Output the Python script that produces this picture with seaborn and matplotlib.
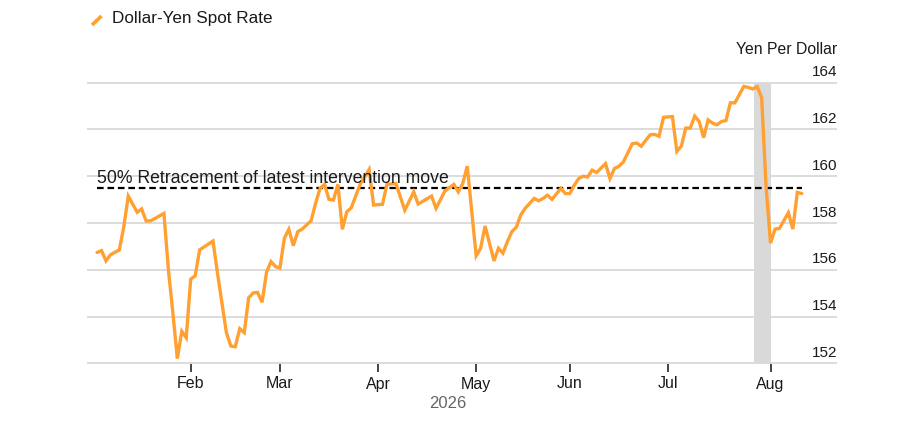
import numpy as np
import pandas as pd
import matplotlib
matplotlib.use("Agg")
import matplotlib.pyplot as plt
import seaborn as sns
from matplotlib.lines import Line2D

# ---------------- data ----------------
dates = [
    "2026-01-02", "2026-01-05", "2026-01-06", "2026-01-07", "2026-01-09", "2026-01-12",
    "2026-01-13", "2026-01-15", "2026-01-16", "2026-01-19", "2026-01-20", "2026-01-23",
    "2026-01-26", "2026-01-27", "2026-01-28", "2026-01-29", "2026-01-30",
    "2026-02-02", "2026-02-03", "2026-02-04", "2026-02-09", "2026-02-10", "2026-02-11",
    "2026-02-12", "2026-02-13", "2026-02-16", "2026-02-17", "2026-02-18", "2026-02-19",
    "2026-02-20", "2026-02-23", "2026-02-24", "2026-02-25", "2026-02-26", "2026-02-27",
    "2026-03-02", "2026-03-03", "2026-03-04", "2026-03-05", "2026-03-06", "2026-03-09",
    "2026-03-11", "2026-03-12", "2026-03-13", "2026-03-16", "2026-03-17", "2026-03-18",
    "2026-03-19", "2026-03-20", "2026-03-23", "2026-03-24", "2026-03-26", "2026-03-30",
    "2026-03-31",
    "2026-04-02", "2026-04-03", "2026-04-07", "2026-04-09", "2026-04-13", "2026-04-14",
    "2026-04-17", "2026-04-20", "2026-04-22", "2026-04-24", "2026-04-27", "2026-04-28",
    "2026-04-29",
    "2026-05-01", "2026-05-04", "2026-05-05", "2026-05-07", "2026-05-08", "2026-05-11",
    "2026-05-12", "2026-05-13", "2026-05-14", "2026-05-15", "2026-05-18", "2026-05-20",
    "2026-05-21", "2026-05-22", "2026-05-25", "2026-05-26", "2026-05-28", "2026-05-29",
    "2026-06-01", "2026-06-02", "2026-06-03", "2026-06-04", "2026-06-05", "2026-06-08",
    "2026-06-09", "2026-06-11", "2026-06-12", "2026-06-15", "2026-06-16", "2026-06-17",
    "2026-06-19", "2026-06-22", "2026-06-23", "2026-06-24", "2026-06-25", "2026-06-26",
    "2026-06-29", "2026-06-30",
    "2026-07-02", "2026-07-03", "2026-07-06", "2026-07-07", "2026-07-08", "2026-07-09",
    "2026-07-10", "2026-07-13", "2026-07-14", "2026-07-15", "2026-07-16", "2026-07-17",
    "2026-07-20", "2026-07-21", "2026-07-22", "2026-07-24", "2026-07-27", "2026-07-28",
    "2026-07-29", "2026-07-30", "2026-07-31",
    "2026-08-03", "2026-08-04", "2026-08-05", "2026-08-07", "2026-08-10", "2026-08-11",
    "2026-08-12",
]
usdjpy = [
    156.74, 156.82, 156.38, 156.64, 156.85, 157.84,
    159.15, 158.46, 158.60, 158.09, 158.09, 158.41,
    156.00, 154.16, 152.20, 153.37, 153.09,
    155.60, 155.74, 156.85, 157.23, 155.86, 154.58,
    153.31, 152.74, 152.71, 153.48, 153.31, 154.80,
    155.01, 155.03, 154.61, 155.89, 156.35, 156.14,
    156.07, 157.35, 157.73, 157.03, 157.63, 157.74,
    158.10, 158.84, 159.48, 159.65, 159.01, 158.98,
    159.65, 157.73, 158.48, 158.65, 159.66, 160.29,
    158.77,
    158.80, 159.65, 159.69, 158.55, 159.33, 158.81,
    159.15, 158.63, 159.37, 159.65, 159.33, 159.69,
    160.43,
    156.60, 156.92, 157.87, 156.38, 156.92, 156.71,
    157.20, 157.63, 157.82, 158.34, 158.63, 159.05,
    158.95, 159.05, 159.19, 159.01, 159.48, 159.26,
    159.26, 159.62, 159.90, 160.00, 159.97, 160.26,
    160.16, 160.54, 159.90, 160.33, 160.43, 160.61,
    161.39, 161.42, 161.28, 161.53, 161.77, 161.79,
    161.71, 162.52,
    162.55, 161.06, 161.29, 162.06, 162.06, 162.57,
    162.34, 161.65, 162.41, 162.27, 162.20, 162.34,
    162.38, 163.14, 163.14, 163.84, 163.80, 163.73,
    163.83, 163.37, 159.54,
    157.14, 157.74, 157.77, 158.44, 157.74, 159.31,
    159.26,
]
month_labels = ["Feb", "Mar", "Apr", "May", "Jun", "Jul", "Aug"]
month_starts = ["2026-02-01", "2026-03-01", "2026-04-01", "2026-05-01",
                "2026-06-01", "2026-07-01", "2026-08-01"]
y_ticks = [152, 154, 156, 158, 160, 162, 164]
retracement_level = 159.48
retracement_label = "50% Retracement of latest intervention move"
band_start, band_end = "2026-07-28", "2026-08-03"
series_name = "Dollar-Yen Spot Rate"
unit_label = "Yen Per Dollar"
year_label = "2026"

ORANGE = "#FFA031"
TEXT = "#1a1a1a"
GRID = "#d9d9d9"

# trading-day index (weekends removed) relative to 2 Feb 2026
ANCHOR = "2026-02-02"


def bidx(d):
    d = np.busday_offset(np.datetime64(d), 0, roll="forward")
    return int(np.busday_count(np.datetime64(ANCHOR), d))


df = pd.DataFrame({"date": dates, "value": usdjpy})
df["idx"] = [bidx(d) for d in df["date"]]

# ---------------- figure ----------------
sns.set_theme(style="white")
plt.rcParams["font.family"] = ["Liberation Sans", "DejaVu Sans"]

fig = plt.figure(figsize=(9, 4.37), dpi=100)
ax = fig.add_axes([87 / 900, 1 - 364 / 437, (837 - 87) / 900, (364 - 82) / 437])

# shaded intervention band
x0, x1 = bidx(band_start), bidx(band_end)
ax.fill_between([x0 + 0.4, x1], y_ticks[0], y_ticks[-1], color="#d9d9d9", lw=0, zorder=1)

sns.lineplot(data=df, x="idx", y="value", color=ORANGE, lw=2.4, ax=ax,
             legend=False, zorder=4, solid_joinstyle="miter")

# retracement line
ax.hlines(retracement_level, df["idx"].iloc[0], df["idx"].iloc[-1], colors="black",
          linestyles=(0, (3.0, 1.7)), lw=1.6, zorder=3)
ax.annotate(retracement_label, xy=(df["idx"].iloc[0], retracement_level),
            xytext=(0, 4), textcoords="offset points", ha="left", va="baseline",
            fontsize=12.7, color=TEXT, zorder=5)

# axes styling
ax.set_xlim(-23.25, 144.9)
ax.set_ylim(y_ticks[0] - 0.03, y_ticks[-1] + 0.03)
for s in ax.spines.values():
    s.set_visible(False)
ax.set_yticks(y_ticks)
ax.yaxis.grid(True, color=GRID, lw=1.3, zorder=0)
ax.xaxis.grid(False)
ax.tick_params(axis="y", length=0, labelleft=False, labelright=False)
ax.set_xticks([bidx(m) for m in month_starts], month_labels)
ax.tick_params(axis="x", length=6, width=1.4, color="#444", pad=3,
               labelsize=11.5, labelcolor=TEXT, bottom=True)
ax.set_xlabel("")
ax.set_ylabel("")

for v in y_ticks:
    ax.annotate(str(v), xy=(1.0, v), xycoords=ax.get_yaxis_transform(),
                xytext=(0, 4.6), textcoords="offset points",
                ha="right", va="baseline", fontsize=11, color=TEXT)

fig.text(837 / 900, 1 - 49 / 437, unit_label, ha="right", va="center",
         fontsize=11.3, color=TEXT)
fig.text(448 / 900, 1 - 403 / 437, year_label, ha="center", va="center",
         fontsize=12, color="#666666")

# legend
fig.add_artist(Line2D([92 / 900, 101.5 / 900], [1 - 25 / 437, 1 - 16 / 437],
                      color=ORANGE, lw=2.6, solid_capstyle="butt"))
fig.text(111.7 / 900, 1 - 19 / 437, series_name, ha="left", va="center",
         fontsize=12.3, color=TEXT)

fig.savefig("out.png", dpi=100, facecolor="white")
